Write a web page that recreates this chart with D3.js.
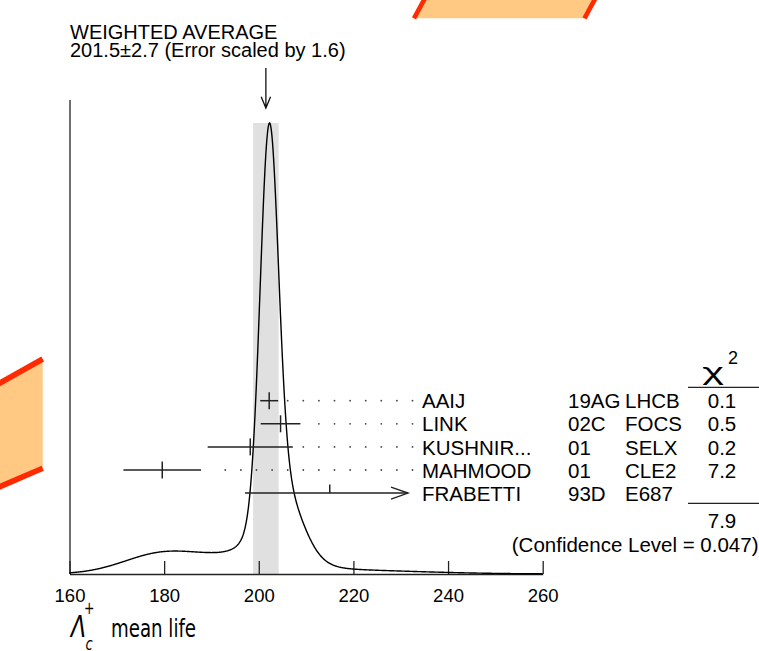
<!DOCTYPE html>
<html>
<head>
<meta charset="utf-8">
<script src="https://cdn.jsdelivr.net/npm/d3@7"></script>
<style>
  body { margin: 0; background: #fff; }
  svg { display: block; }
  text { font-family: "Liberation Sans", Arial, Helvetica, sans-serif; fill: #000; }
</style>
</head>
<body>
<svg id="chart" width="759" height="651"></svg>
<script>
// Λc+ mean life measurements (fs)
const names = ["AAIJ", "LINK", "KUSHNIR...", "MAHMOOD", "FRABETTI"];
const refs = ["19AG", "02C", "01", "01", "93D"];
const experiments = ["LHCB", "FOCS", "SELX", "CLE2", "E687"];
const values = [202.2, 204.6, 198.2, 179.6, 215.0];
const errors = [1.9, 4.2, 9.0, 8.2, 17.9];
const chi2 = ["0.1", "0.5", "0.2", "7.2", ""];

const average = 201.5;
const averageError = 2.7;
const errorScale = 1.6;
const chi2Total = "7.9";
const confidenceLevel = "0.047";

const xTicks = [160, 180, 200, 220, 240, 260];
const xDomain = [160, 260];

const svg = d3.select("#chart");

// decorative orange banners
const bannerFill = "#ffc883", bannerEdge = "#ff2a00";
const deco = svg.append("g");
deco.append("polygon")
  .attr("points", "414,18.3 425.6,-3 596.1,-3 584.5,18.3")
  .attr("fill", bannerFill);
deco.append("line").attr("x1", 414).attr("y1", 18.3).attr("x2", 425.6).attr("y2", -3)
  .attr("stroke", bannerEdge).attr("stroke-width", 4.6);
deco.append("line").attr("x1", 584.5).attr("y1", 18.3).attr("x2", 596.1).attr("y2", -3)
  .attr("stroke", bannerEdge).attr("stroke-width", 4.6);

deco.append("polygon")
  .attr("points", "-4,385.2 42.7,359 42.7,468.3 -4,488.3")
  .attr("fill", bannerFill);
deco.append("line").attr("x1", -4).attr("y1", 385.2).attr("x2", 42.7).attr("y2", 359)
  .attr("stroke", bannerEdge).attr("stroke-width", 5.6);
deco.append("line").attr("x1", -4).attr("y1", 488.3).attr("x2", 42.7).attr("y2", 468.3)
  .attr("stroke", bannerEdge).attr("stroke-width", 5.6);

// scales
const x = d3.scaleLinear().domain(xDomain).range([69.5, 542.7]);
const axisY = 574;
const row = d3.scaleLinear().domain([0, names.length - 1]).range([400.7, 493.1]);

// ideogram: each measurement is a Gaussian whose area is proportional to 1/error
const grid = d3.range(xDomain[0], xDomain[1] + 0.001, 0.1);
const ideogram = grid.map(t => [t, d3.sum(values, (v, i) => {
  const s = errors[i];
  return Math.exp(-((t - v) ** 2) / (2 * s * s)) / (s * s);
})]);
const yc = d3.scaleLinear()
  .domain([0, d3.max(ideogram, d => d[1])])
  .range([axisY, 123]);

// weighted-average band
svg.append("rect")
  .attr("x", x(average - averageError))
  .attr("width", x(average + averageError) - x(average - averageError))
  .attr("y", 123)
  .attr("height", axisY - 123)
  .attr("fill", "#e0e0e0");

// x axis with upward ticks
const xAxis = d3.axisBottom(x)
  .tickValues(xTicks)
  .tickSizeInner(-13)
  .tickSizeOuter(0)
  .tickPadding(15)
  .tickFormat(d3.format("d"));
const gx = svg.append("g").attr("transform", `translate(0,${axisY})`).call(xAxis);
gx.select(".domain").attr("stroke", "#222").attr("stroke-width", 1.3);
gx.selectAll(".tick line").attr("stroke", "#222").attr("stroke-width", 1.3);
gx.selectAll(".tick text")
  .attr("fill", "#000")
  .style("font-size", "18.5px")
  .style("font-family", "'Liberation Sans', Arial, sans-serif");

// vertical axis line
svg.append("line")
  .attr("x1", x(xDomain[0]) + 0.5).attr("x2", x(xDomain[0]) + 0.5)
  .attr("y1", 100).attr("y2", axisY)
  .attr("stroke", "#222").attr("stroke-width", 1.3);

// ideogram curve
svg.append("path")
  .datum(ideogram)
  .attr("fill", "none")
  .attr("stroke", "#000")
  .attr("stroke-width", 1.4)
  .attr("d", d3.line().x(d => x(d[0])).y(d => yc(d[1])));

// dotted leaders and error bars
const leaderEnd = 412.5, leaderStep = 15.6, barLimit = 408;
names.forEach((n, i) => {
  const cy = row(i);
  const lo = x(values[i] - errors[i]);
  const hiRaw = x(values[i] + errors[i]);
  const clipped = hiRaw > barLimit;
  const hi = clipped ? barLimit : hiRaw;

  if (!clipped) {
    for (let dx = leaderEnd; dx > hi + 9.5; dx -= leaderStep) {
      svg.append("circle").attr("cx", dx).attr("cy", cy).attr("r", 0.9).attr("fill", "#444");
    }
  }

  svg.append("line")
    .attr("x1", lo).attr("x2", hi).attr("y1", cy).attr("y2", cy)
    .attr("stroke", "#222").attr("stroke-width", 1.5);

  const cx = x(values[i]);
  svg.append("line")
    .attr("x1", cx).attr("x2", cx)
    .attr("y1", cy - 8.5).attr("y2", clipped ? cy : cy + 8.5)
    .attr("stroke", "#222").attr("stroke-width", 1.5);

  if (clipped) {
    svg.append("path")
      .attr("d", `M${hi - 17},${cy - 6}L${hi},${cy}L${hi - 17},${cy + 6}`)
      .attr("fill", "none").attr("stroke", "#222").attr("stroke-width", 1.4);
  }

  const base = cy + 7.6;
  svg.append("text").attr("x", 422).attr("y", base).style("font-size", "20.5px").text(n);
  svg.append("text").attr("x", 568).attr("y", base).style("font-size", "20.5px").text(refs[i]);
  svg.append("text").attr("x", 625).attr("y", base).style("font-size", "20.5px").text(experiments[i]);
  svg.append("text").attr("x", 722).attr("y", base).attr("text-anchor", "middle")
    .style("font-size", "20.5px").text(chi2[i]);
});

// chi-square column header and totals
svg.append("text")
  .attr("transform", "translate(713,380) scale(1.8,1)")
  .attr("text-anchor", "middle")
  .style("font-size", "23px").text("χ");
svg.append("text").attr("x", 728).attr("y", 363.5).style("font-size", "18px").text("2");
svg.append("line").attr("x1", 688).attr("x2", 759).attr("y1", 387.3).attr("y2", 387.3)
  .attr("stroke", "#222").attr("stroke-width", 1.2);
svg.append("line").attr("x1", 688).attr("x2", 759).attr("y1", 503.3).attr("y2", 503.3)
  .attr("stroke", "#222").attr("stroke-width", 1.2);
svg.append("text").attr("x", 722).attr("y", 528).attr("text-anchor", "middle")
  .style("font-size", "20.5px").text(chi2Total);
svg.append("text").attr("x", 758.5).attr("y", 551.7).attr("text-anchor", "end")
  .style("font-size", "20.5px").text(`(Confidence Level = ${confidenceLevel})`);

// title and arrow to the average
svg.append("text").attr("x", 70).attr("y", 39).style("font-size", "20px").text("WEIGHTED AVERAGE");
svg.append("text").attr("x", 70).attr("y", 57).style("font-size", "20px")
  .text(`${average}±${averageError} (Error scaled by ${errorScale})`);
const ax = x(average);
svg.append("path")
  .attr("d", `M${ax},68V108M${ax - 4.7},96.7L${ax},108L${ax + 4.7},96.7`)
  .attr("fill", "none").attr("stroke", "#111").attr("stroke-width", 1.3);

// quantity label (set in a narrow, tall face)
const q = svg.append("g").attr("transform", "translate(0,637) scale(1,1.4)")
  .style("font-family", "'DejaVu Sans', sans-serif");
q.append("text").attr("x", 71).attr("y", 0)
  .style("font-family", "'DejaVu Sans', sans-serif")
  .style("font-style", "italic").style("font-size", "22px").text("Λ");
q.append("text").attr("x", 84).attr("y", -16.6)
  .style("font-family", "'DejaVu Sans', sans-serif").style("font-size", "12.5px").text("+");
q.append("text").attr("x", 85.5).attr("y", 9.4)
  .style("font-family", "'DejaVu Sans', sans-serif")
  .style("font-style", "italic").style("font-size", "13px").text("c");
q.append("text").attr("x", 111).attr("y", 0)
  .style("font-family", "'DejaVu Sans', sans-serif").style("font-size", "18.2px").text("mean life");
</script>
</body>
</html>
